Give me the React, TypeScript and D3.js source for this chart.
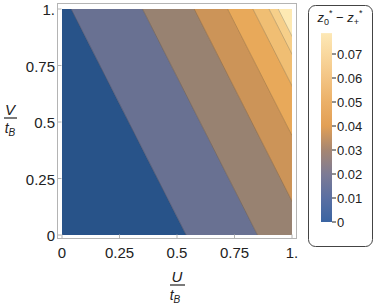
import React from 'react'
import * as d3 from 'd3'

// contour lines: U where each line meets V=0 and V=1
const bottomU = [0.54, 0.85, 1.075, 1.22, 1.33, 1.40, 1.44]
const topU = [0.04, 0.35, 0.575, 0.72, 0.83, 0.90, 0.94]
const bandColors = ['#285389', '#697192', '#988271', '#cc9458', '#e8a95a', '#f0be73', '#f6cf8a', '#fde9b3']

const axisTicks = [0, 0.25, 0.5, 0.75, 1]
const axisTickLabels = ['0', '0.25', '0.5', '0.75', '1.']

const legendTicks = [0, 0.01, 0.02, 0.03, 0.04, 0.05, 0.06, 0.07]
const legendStops = [
  { v: 0, c: '#3a64a2' },
  { v: 0.01, c: '#5a6fa2' },
  { v: 0.02, c: '#7d7b95' },
  { v: 0.03, c: '#a68672' },
  { v: 0.04, c: '#e29f55' },
  { v: 0.05, c: '#ebb068' },
  { v: 0.06, c: '#f3c484' },
  { v: 0.07, c: '#f9d89e' },
  { v: 0.0787, c: '#fde8b6' },
]
const legendMax = 0.0787

export default function App() {
  const x = d3.scaleLinear().domain([0, 1]).range([62, 292])
  const y = d3.scaleLinear().domain([0, 1]).range([235, 9])
  const ly = d3.scaleLinear().domain([0, 0.07]).range([222, 54])

  const lo = -0.5
  const hi = 2
  const bands = bandColors.map((c, i) => {
    const pts: [number, number][] = []
    if (i === 0) {
      pts.push([lo, 0], [bottomU[0], 0], [topU[0], 1], [lo, 1])
    } else if (i === bandColors.length - 1) {
      pts.push([bottomU[i - 1], 0], [hi, 0], [hi, 1], [topU[i - 1], 1])
    } else {
      pts.push([bottomU[i - 1], 0], [bottomU[i], 0], [topU[i], 1], [topU[i - 1], 1])
    }
    return { c, d: 'M' + pts.map(p => `${x(p[0])},${y(p[1])}`).join('L') + 'Z' }
  })

  const font = '"Liberation Sans", Arial, sans-serif'

  return (
    <svg width={374} height={305} style={{ position: 'absolute', left: 0, top: 0, background: '#fff' }} fontFamily={font}>
      <defs>
        <clipPath id="plotclip">
          <rect x={x(0)} y={y(1)} width={x(1) - x(0)} height={y(0) - y(1)} />
        </clipPath>
        <linearGradient id="lg" x1="0" y1="1" x2="0" y2="0">
          {legendStops.map((s, i) => (
            <stop key={i} offset={s.v / legendMax} stopColor={s.c} />
          ))}
        </linearGradient>
      </defs>

      <g clipPath="url(#plotclip)">
        {bands.map((b, i) => (
          <path key={i} d={b.d} fill={b.c} stroke={b.c} strokeWidth={0.5} />
        ))}
        {bottomU.map((b, i) => (
          <line key={i} x1={x(b)} y1={y(0)} x2={x(topU[i])} y2={y(1)} stroke="#000" strokeOpacity={0.28} strokeWidth={0.7} />
        ))}
      </g>

      {/* frame */}
      <rect x={57.5} y={3.5} width={239} height={235} fill="none" stroke="#b4b4b4" strokeWidth={1} />
      {axisTicks.map((t, i) => (
        <g key={'x' + i}>
          <line x1={x(t)} x2={x(t)} y1={238.5} y2={234.5} stroke="#b4b4b4" />
          <text x={x(t)} y={258} fontSize={15} textAnchor="middle" fill="#222">{axisTickLabels[i]}</text>
        </g>
      ))}
      {axisTicks.map((t, i) => (
        <g key={'y' + i}>
          <line x1={57.5} x2={61.5} y1={y(t)} y2={y(t)} stroke="#b4b4b4" />
          <text x={55} y={y(t) + 6} fontSize={15} textAnchor="end" fill="#222">{axisTickLabels[i]}</text>
        </g>
      ))}

      {/* x axis label */}
      <text x={177} y={282} fontSize={15} fontStyle="italic" textAnchor="middle" fill="#222">U</text>
      <line x1={170} x2={185} y1={285} y2={285} stroke="#222" strokeWidth={1.2} />
      <text x={175} y={300} fontSize={14} fontStyle="italic" textAnchor="middle" fill="#222">
        t<tspan fontSize={10} dy={3}>B</tspan>
      </text>

      {/* y axis label */}
      <text x={10} y={115} fontSize={15} fontStyle="italic" textAnchor="middle" fill="#222">V</text>
      <line x1={4} x2={17} y1={118} y2={118} stroke="#222" strokeWidth={1.2} />
      <text x={10} y={133} fontSize={14} fontStyle="italic" textAnchor="middle" fill="#222">
        t<tspan fontSize={10} dy={3}>B</tspan>
      </text>

      {/* legend */}
      <rect x={308.5} y={5.5} width={64} height={241} rx={7} fill="#fff" stroke="#444" strokeWidth={1} />
      <text x={340} y={22} fontSize={13} textAnchor="middle" fill="#222">
        <tspan fontStyle="italic">z</tspan><tspan fontSize={9} dy={3}>0</tspan><tspan fontSize={9} dy={-9}>*</tspan>
        <tspan dy={6}> − </tspan>
        <tspan fontStyle="italic">z</tspan><tspan fontSize={9} dy={3}>+</tspan><tspan fontSize={9} dy={-9}>*</tspan>
      </text>
      <rect x={321} y={ly(legendMax)} width={11} height={ly(0) - ly(legendMax)} fill="url(#lg)" />
      {legendTicks.map((t, i) => (
        <g key={'l' + i}>
          <line x1={332} x2={336} y1={ly(t)} y2={ly(t)} stroke="#222" />
          <text x={337} y={ly(t) + 4.5} fontSize={13} fill="#222">{t === 0 ? '0' : String(t)}</text>
        </g>
      ))}
    </svg>
  )
}
